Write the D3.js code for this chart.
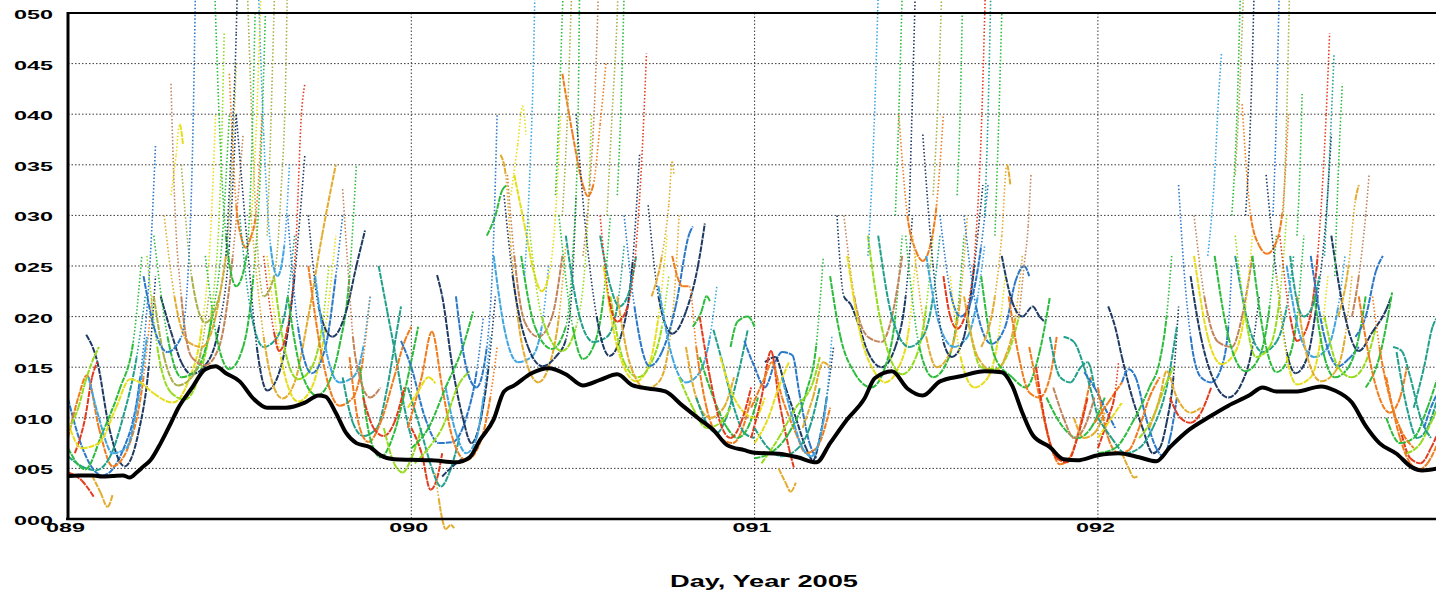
<!DOCTYPE html>
<html>
<head>
<meta charset="utf-8">
<script src="https://cdn.jsdelivr.net/npm/d3@7"></script>
<style>
  body { margin: 0; background: #fff; overflow: hidden; }
</style>
</head>
<body>
<svg id="chart"></svg>
<script>
// Axis ticks and labels
var dayTicks = [89, 90, 91, 92];
var dayLabels = ["089", "090", "091", "092"];
var yTicks = [0, 5, 10, 15, 20, 25, 30, 35, 40, 45, 50];
var yTickLabels = ["000", "005", "010", "015", "020", "025", "030", "035", "040", "045", "050"];
var xTitle = "Day, Year 2005";

// one colour per satellite track
var satColors = ["#1e3a62", "#2a78c8", "#20a08a", "#2cbc3c", "#96dc1e", "#e6de18",
                 "#e2ac2e", "#f07c1c", "#e43a1c", "#c2845a", "#a8b048", "#3ea6e0"];

// black lower envelope (day, value)
var baseline = [
  [89.0,4.25],[89.03,4.3],[89.073,4.3],[89.10,4.2],[89.13,4.25],[89.16,4.3],[89.18,4.1],[89.20,4.6],[89.22,5.2],[89.24,5.8],
  [89.27,7.5],[89.30,9.5],[89.32,10.9],[89.36,12.9],[89.40,14.8],[89.43,15.1],[89.46,14.4],[89.50,13.6],[89.54,11.9],[89.58,11.0],
  [89.635,11.0],[89.69,11.5],[89.73,12.2],[89.75,12.1],[89.78,10.5],[89.81,8.5],[89.84,7.5],[89.88,7.1],[89.91,6.3],[89.95,5.9],
  [90.0,5.85],[90.06,5.8],[90.13,5.6],[90.17,6.1],[90.20,7.8],[90.24,9.85],[90.27,12.6],[90.30,13.2],[90.35,14.4],[90.40,14.9],
  [90.45,14.3],[90.50,13.2],[90.55,13.75],[90.60,14.3],[90.645,13.2],[90.69,12.9],[90.74,12.6],[90.79,11.2],[90.84,9.85],[90.88,8.8],
  [90.92,7.3],[90.97,6.8],[91.0,6.55],[91.07,6.45],[91.125,6.1],[91.18,5.6],[91.22,7.5],[91.27,9.85],[91.32,11.9],[91.35,13.9],
  [91.40,14.6],[91.445,12.9],[91.49,12.2],[91.54,13.6],[91.60,14.1],[91.67,14.6],[91.72,14.5],[91.75,13.2],[91.78,10.5],[91.81,8.3],
  [91.86,7.1],[91.90,5.9],[91.94,5.8],[92.0,6.3],[92.06,6.5],[92.12,6.1],[92.17,5.7],[92.21,7.1],[92.265,8.8],[92.32,10.0],
  [92.38,11.2],[92.44,12.2],[92.48,13.0],[92.52,12.6],[92.58,12.6],[92.65,13.1],[92.69,12.7],[92.74,11.5],[92.78,9.2],[92.82,7.5],
  [92.87,6.45],[92.915,5.1],[92.945,4.8],[92.99,5.0]
];

// satellite passes: [colour index, [[day, value], ...]]
var passes = [
  // day 089
  [1,[[89.00,11.9],[89.04,7.2],[89.10,4.3],[89.16,6.8],[89.21,14],[89.24,26],[89.255,37]]],
  [0,[[89.053,18.2],[89.085,15.6],[89.12,9],[89.165,5.2],[89.205,8.5],[89.235,15],[89.255,24]]],
  [8,[[89.0,4.6],[89.04,3.8],[89.075,2.2]]],
  [6,[[89.07,4.3],[89.095,2.6],[89.115,1.2],[89.13,2.4]]],
  [7,[[89.0,8],[89.03,12],[89.055,14.2],[89.09,9],[89.13,5.2],[89.18,7.5],[89.22,14],[89.245,22]]],
  [2,[[89.0,6.2],[89.04,5.2],[89.08,4.8],[89.12,6],[89.16,10],[89.20,16],[89.225,22]]],
  [3,[[89.0,7],[89.05,4.9],[89.10,8.5],[89.15,12.8],[89.19,17.5],[89.215,26]]],
  [4,[[89.0,8.8],[89.03,11],[89.05,13.5],[89.07,15.5],[89.09,17]]],
  [8,[[89.02,6.5],[89.05,10],[89.07,14],[89.085,15.5]]],
  [11,[[89.06,14],[89.09,10],[89.13,6.5],[89.17,7],[89.20,11],[89.23,18]]],
  [5,[[89.0,9.5],[89.04,7],[89.09,7.5],[89.14,11],[89.18,13.8],[89.21,13.5],[89.25,12.4],[89.305,11.5],[89.35,13.6],[89.39,19],[89.415,28],[89.43,40]]],
  [4,[[89.23,26],[89.26,17],[89.30,12.5],[89.34,11.8],[89.38,14],[89.42,21],[89.445,34],[89.455,48]]],
  [0,[[89.27,22],[89.30,18.5],[89.33,15.5],[89.36,14.3],[89.40,15.2],[89.44,19],[89.47,27],[89.49,40]]],
  [3,[[89.25,28],[89.29,18],[89.33,14],[89.37,14.6],[89.42,20],[89.45,28],[89.47,40]]],
  [10,[[89.25,22],[89.28,16],[89.32,13.2],[89.36,14],[89.39,17],[89.41,22]]],
  [6,[[89.28,30],[89.31,22],[89.35,17.5],[89.39,17],[89.43,20],[89.46,26]]],
  [9,[[89.30,43],[89.31,32],[89.33,22],[89.36,16],[89.40,15.2],[89.44,17],[89.48,26],[89.51,38]]],
  [10,[[89.33,35],[89.36,24],[89.40,19.4],[89.44,22],[89.47,30],[89.49,45]]],
  [1,[[89.22,24],[89.25,19],[89.29,16.5],[89.33,18],[89.355,28],[89.365,40],[89.372,54]]],
  [7,[[89.47,44],[89.49,31],[89.505,27.8],[89.518,26.8],[89.532,27.8],[89.547,30],[89.565,40]]],
  [3,[[89.40,26],[89.43,18.5],[89.47,14.8],[89.51,17],[89.54,24],[89.56,34],[89.575,50]]],
  [2,[[89.50,30],[89.53,21],[89.57,17],[89.61,18],[89.64,22],[89.66,28]]],
  [0,[[89.49,40],[89.52,28],[89.55,17],[89.58,12.7],[89.62,15],[89.66,24],[89.69,36]]],
  [6,[[89.53,31],[89.57,18],[89.60,13],[89.625,11.9],[89.66,13.5],[89.70,20],[89.74,28],[89.78,35]]],
  [5,[[89.58,26],[89.62,16],[89.67,11.6],[89.71,13],[89.75,19],[89.78,28]]],
  [4,[[89.60,24],[89.63,17],[89.67,13.8],[89.71,15],[89.74,19],[89.76,25]]],
  [8,[[89.57,26],[89.60,18.5],[89.615,16.6],[89.64,19],[89.665,28],[89.68,40],[89.69,43]]],
  [1,[[89.64,30],[89.67,19],[89.71,14.4],[89.75,17],[89.78,24],[89.80,30]]],
  [3,[[89.64,22],[89.68,14.5],[89.725,12.2],[89.76,13.5],[89.79,17],[89.82,24],[89.84,35]]],
  [0,[[89.70,30],[89.73,21],[89.77,18],[89.81,20.5],[89.84,25],[89.865,28.5]]],
  [7,[[89.70,25],[89.74,16],[89.79,11.2],[89.83,12],[89.86,16],[89.88,22]]],
  [11,[[89.72,24],[89.75,17],[89.79,13.5],[89.83,14],[89.86,17],[89.88,22]]],
  [2,[[89.80,14],[89.83,9.5],[89.86,8.2],[89.90,9],[89.93,13],[89.955,18],[89.97,21]]],
  [2,[[89.905,25],[89.93,20.5],[89.955,16],[89.98,11],[90.0,8]]],
  [7,[[89.82,16],[89.85,9],[89.875,7.6],[89.91,9.5],[89.95,14],[89.98,17.5],[90.0,19]]],
  [3,[[89.85,15],[89.88,8],[89.91,6.1],[89.95,8.5],[89.99,14],[90.02,19]]],
  [8,[[89.86,12],[89.89,9],[89.92,8.2],[89.95,9.5],[89.98,13]]],
  [4,[[89.92,9],[89.95,5.5],[89.975,4.6],[90.0,6],[90.03,9]]],
  [9,[[89.80,32.6],[89.815,25],[89.83,18],[89.85,14],[89.88,12],[89.91,13]]],
  [10,[[89.52,55],[89.535,40],[89.55,28],[89.57,22],[89.60,24],[89.62,32],[89.635,45],[89.64,55]]],
  [3,[[89.425,55],[89.44,40],[89.46,28],[89.49,23],[89.52,26],[89.535,36],[89.545,50]]],
  [11,[[89.555,52],[89.57,38],[89.59,27],[89.61,24],[89.63,27],[89.645,35]]],
  [0,[[89.46,26],[89.475,36],[89.49,48],[89.495,55]]],
  [5,[[89.535,30],[89.55,40],[89.56,50],[89.565,55]]],
  [10,[[89.58,28],[89.59,38],[89.60,50],[89.605,56]]],
  [5,[[89.30,32],[89.315,36],[89.325,39],[89.335,37]]],
  // day 090
  [1,[[89.97,17.6],[90.0,15],[90.04,10],[90.08,7.5],[90.12,7.6],[90.16,10],[90.19,14.5],[90.21,20]]],
  [0,[[90.075,24.1],[90.09,22],[90.12,15],[90.15,10],[90.175,7.5],[90.20,9.5],[90.225,15],[90.245,22]]],
  [8,[[90.0,9],[90.03,6.5],[90.056,2.9],[90.075,4],[90.09,6.5]]],
  [6,[[90.07,4.5],[90.08,2],[90.09,0],[90.10,-1],[90.115,-0.6],[90.125,-0.9]]],
  [2,[[89.99,13],[90.03,8.5],[90.06,5],[90.086,3.2],[90.11,4.5],[90.14,8]]],
  [0,[[90.09,4.2],[90.12,5.2],[90.15,6]]],
  [7,[[89.99,9],[90.03,14],[90.06,18.5],[90.09,13],[90.12,8],[90.16,5.8],[90.20,7.5],[90.23,12],[90.25,17]]],
  [3,[[90.0,7],[90.05,9],[90.10,13],[90.15,17],[90.18,20.5]]],
  [5,[[89.99,11],[90.02,12.6],[90.05,14],[90.07,13.4]]],
  [11,[[90.10,13],[90.13,8.5],[90.16,6.5],[90.19,8],[90.21,12],[90.23,18]]],
  [4,[[90.01,5.5],[90.05,7],[90.09,9],[90.14,13.4],[90.17,14.6]]],
  [3,[[90.22,28],[90.245,30],[90.265,32.5],[90.28,33]]],
  [1,[[90.13,22],[90.16,15],[90.19,13],[90.22,17],[90.24,28],[90.25,40]]],
  [5,[[90.29,32],[90.31,37],[90.324,40.8],[90.334,38]]],
  [11,[[90.24,26],[90.27,19],[90.31,15.5],[90.35,16],[90.38,19],[90.40,25]]],
  [9,[[90.28,34],[90.30,26],[90.33,19.5],[90.37,18],[90.41,20],[90.44,26]]],
  [6,[[90.26,36],[90.275,34],[90.29,27],[90.31,20],[90.34,15],[90.37,13.5],[90.40,15],[90.43,20],[90.45,27]]],
  [5,[[90.30,34],[90.33,29],[90.36,24],[90.38,22.5],[90.40,24],[90.42,30],[90.435,40]]],
  [0,[[90.27,32],[90.295,24.1],[90.34,17],[90.382,15.1],[90.42,16],[90.45,17.7],[90.47,24],[90.48,32]]],
  [3,[[90.32,26],[90.36,19],[90.41,16.8],[90.45,19],[90.47,26],[90.485,38],[90.49,52]]],
  [4,[[90.34,30],[90.38,20],[90.44,16.6],[90.48,19],[90.51,27],[90.525,40]]],
  [3,[[90.43,30],[90.47,19],[90.50,15.8],[90.53,17],[90.56,22],[90.58,30]]],
  [2,[[90.45,28],[90.49,20],[90.53,17.5],[90.57,18],[90.60,21],[90.62,27]]],
  [7,[[90.44,44],[90.47,38],[90.50,33],[90.514,31.9],[90.53,33],[90.55,39],[90.567,45]]],
  [0,[[90.48,40],[90.504,30],[90.54,20],[90.577,16.1],[90.61,18],[90.645,25.5],[90.665,36]]],
  [2,[[90.55,28],[90.58,23],[90.606,21],[90.63,22],[90.655,26]]],
  [5,[[90.56,25],[90.60,17],[90.655,13.6],[90.69,15],[90.72,20],[90.745,28]]],
  [4,[[90.58,22],[90.62,15.5],[90.66,14],[90.70,15.5],[90.73,19],[90.75,24]]],
  [6,[[90.60,22],[90.64,15],[90.684,12.9],[90.72,13.5],[90.75,17],[90.77,24],[90.78,30]]],
  [1,[[90.62,30],[90.65,21],[90.694,15.1],[90.73,16.5],[90.77,21],[90.81,28.2],[90.82,28.9]]],
  [0,[[90.69,31],[90.72,22],[90.76,18.3],[90.80,20.5],[90.835,25],[90.855,29.2]]],
  [11,[[90.72,23],[90.76,16],[90.80,13.5],[90.84,14.5],[90.87,18],[90.89,23]]],
  [8,[[90.55,30],[90.575,22],[90.60,19.5],[90.63,21],[90.655,27],[90.675,38],[90.685,46]]],
  [9,[[90.50,26],[90.52,33],[90.535,42],[90.545,52]]],
  [3,[[90.42,32],[90.43,40],[90.44,50],[90.445,55]]],
  [10,[[90.44,30],[90.455,40],[90.465,50],[90.47,55]]],
  [11,[[90.33,24],[90.345,34],[90.355,44],[90.36,52]]],
  [10,[[90.57,30],[90.585,40],[90.60,50],[90.605,55]]],
  [3,[[90.60,32],[90.61,40],[90.62,52]]],
  [6,[[90.70,22],[90.73,26],[90.75,31],[90.76,35.3],[90.765,34]]],
  [7,[[90.76,26],[90.79,23],[90.81,23],[90.83,17],[90.86,11],[90.90,8],[90.937,7.5],[90.96,8.5],[90.99,12]]],
  [3,[[90.82,19],[90.845,20.5],[90.86,22],[90.87,21.5]]],
  [6,[[90.80,17],[90.83,12],[90.87,10],[90.91,11],[90.94,14]]],
  [2,[[90.83,12],[90.86,9.5],[90.89,8.5],[90.917,10],[90.95,14],[90.98,18.7]]],
  [2,[[90.88,18.7],[90.91,15],[90.94,11],[90.97,8.5],[91.0,8]]],
  [3,[[90.84,16],[90.88,12],[90.92,9],[90.95,8],[90.98,9],[91.01,12]]],
  [3,[[90.93,17],[90.95,19.5],[90.98,20],[91.0,19]]],
  [5,[[90.90,16],[90.94,12],[90.97,10.5],[91.0,10],[91.03,12]]],
  [8,[[90.84,20],[90.87,14],[90.90,9.5],[90.93,8],[90.96,9.5],[90.99,13]]],
  [4,[[90.78,14],[90.82,11],[90.86,9],[90.90,9.5],[90.93,11]]],
  // day 091
  [1,[[90.97,17.6],[91.0,15],[91.03,13],[91.06,15.5],[91.08,16.5],[91.11,16.2],[91.13,12.5],[91.16,7.5],[91.18,6]]],
  [0,[[91.03,15.5],[91.06,16],[91.09,13],[91.12,10],[91.15,7],[91.17,5.8],[91.19,8],[91.21,12],[91.23,17]]],
  [8,[[90.99,8],[91.02,12],[91.048,16.6],[91.07,12],[91.10,7],[91.115,5]]],
  [6,[[91.07,5],[91.09,3.6],[91.105,2.7],[91.12,3.6]]],
  [7,[[90.99,11],[91.03,14],[91.05,15.5],[91.08,12],[91.12,8.5],[91.15,6.5],[91.18,7],[91.22,11]]],
  [2,[[91.0,9],[91.04,7],[91.08,6.2],[91.12,6.8],[91.16,9],[91.19,13]]],
  [5,[[91.0,7.5],[91.04,10],[91.07,13],[91.10,15.5]]],
  [3,[[91.0,6],[91.05,6.6],[91.10,8.5],[91.15,12.5],[91.18,17.3],[91.20,25.8]]],
  [4,[[91.02,5.5],[91.07,8],[91.12,11],[91.17,13.5],[91.19,16]]],
  [11,[[91.08,14],[91.11,10],[91.14,7],[91.165,6.2],[91.19,8],[91.21,12],[91.225,18]]],
  [6,[[91.14,9],[91.17,12],[91.20,15.5],[91.22,15]]],
  [0,[[91.24,30],[91.26,22],[91.28,21.2],[91.30,19.5],[91.33,16.5],[91.37,15],[91.41,17],[91.44,22],[91.46,30]]],
  [3,[[91.22,24],[91.25,18],[91.29,14.5],[91.34,13],[91.38,15],[91.41,20],[91.43,28]]],
  [9,[[91.26,30],[91.29,22],[91.33,18],[91.37,17.5],[91.40,20],[91.43,26]]],
  [5,[[91.27,26],[91.31,18],[91.35,14.5],[91.38,13.5],[91.42,15],[91.45,19],[91.47,26]]],
  [4,[[91.33,28],[91.37,19],[91.43,14.3],[91.47,16],[91.50,21],[91.52,28]]],
  [2,[[91.36,28],[91.40,20],[91.45,17],[91.49,18],[91.52,22],[91.54,28]]],
  [7,[[91.42,40],[91.445,30],[91.47,26.5],[91.49,25.5],[91.51,26.8],[91.53,31],[91.55,40]]],
  [3,[[91.44,28],[91.48,17],[91.52,14],[91.56,15.5],[91.59,20],[91.61,28]]],
  [6,[[91.46,28],[91.50,18],[91.53,15],[91.57,16.5],[91.60,22],[91.62,30]]],
  [11,[[91.50,26],[91.54,19],[91.58,17],[91.62,18],[91.65,22],[91.67,27]]],
  [0,[[91.49,38],[91.52,25],[91.55,17.5],[91.575,16],[91.61,18],[91.64,25],[91.665,33]]],
  [1,[[91.54,30],[91.57,22.5],[91.60,20],[91.63,21.5],[91.66,27],[91.68,33]]],
  [8,[[91.55,24],[91.57,20],[91.59,18.8],[91.62,21],[91.645,28],[91.66,38],[91.672,52]]],
  [5,[[91.57,24],[91.60,16],[91.64,13],[91.68,14],[91.71,18],[91.73,24]]],
  [4,[[91.62,20],[91.66,15],[91.70,14.8],[91.74,16.5],[91.77,20]]],
  [6,[[91.61,22],[91.65,16],[91.70,14.5],[91.73,16],[91.76,20],[91.78,26]]],
  [1,[[91.61,30],[91.645,21],[91.69,17.3],[91.73,19],[91.76,23.5],[91.785,25],[91.80,24]]],
  [0,[[91.72,26],[91.75,21.5],[91.78,20],[91.81,21],[91.83,20],[91.845,19.5]]],
  [3,[[91.66,24],[91.70,16],[91.75,14],[91.79,13],[91.83,16.5],[91.86,21.9]]],
  [6,[[91.66,17],[91.70,22],[91.72,28],[91.735,35],[91.745,33]]],
  [9,[[91.77,20],[91.785,25],[91.797,29],[91.805,34]]],
  [11,[[91.33,26],[91.345,36],[91.355,46],[91.36,52]]],
  [3,[[91.41,30],[91.42,40],[91.43,52]]],
  [0,[[91.45,30],[91.46,42],[91.468,52]]],
  [10,[[91.52,32],[91.535,42],[91.545,52]]],
  [3,[[91.59,32],[91.60,42],[91.605,50]]],
  [2,[[91.67,30],[91.68,40],[91.688,52]]],
  [3,[[91.70,28],[91.71,38],[91.72,50]]],
  [7,[[91.74,22],[91.77,16],[91.80,12.5],[91.83,12],[91.86,14],[91.88,18]]],
  [7,[[91.80,17],[91.83,12],[91.86,7.5],[91.89,5.4],[91.92,6.2],[91.95,9.5],[91.98,14]]],
  [8,[[91.82,15],[91.85,9],[91.88,6],[91.91,5.6],[91.94,8],[91.97,12]]],
  [2,[[91.86,18],[91.89,14],[91.92,13.5],[91.95,15],[91.97,15.5],[91.99,13]]],
  [2,[[91.90,18],[91.93,17.5],[91.96,15],[92.0,10]]],
  [3,[[91.85,12],[91.90,9],[91.94,8],[91.98,9],[92.02,12]]],
  [6,[[91.93,10],[91.96,8],[91.99,8.5],[92.02,10.5]]],
  [1,[[91.96,14.5],[91.99,13],[92.02,11],[92.05,9]]],
  [9,[[91.87,13],[91.90,10],[91.93,8],[91.96,9],[91.99,12]]],
  // day 092
  [0,[[92.03,21],[92.05,19],[92.07,16],[92.10,12],[92.13,9],[92.16,6.5],[92.18,7],[92.20,9.5],[92.22,14],[92.235,21]]],
  [1,[[92.07,13.5],[92.09,14.8],[92.11,14],[92.14,10],[92.17,7],[92.19,6.2],[92.21,8],[92.23,12]]],
  [6,[[92.07,6.5],[92.09,5],[92.105,4.1],[92.115,4.2]]],
  [7,[[91.99,9.5],[92.03,11.5],[92.07,13.5]]],
  [8,[[92.0,7],[92.03,10],[92.05,12.5],[92.06,15.5]]],
  [7,[[92.0,13],[92.03,8],[92.06,6.5],[92.09,6.8],[92.12,9],[92.15,12],[92.18,14]]],
  [5,[[92.0,8],[92.04,10],[92.07,11.5]]],
  [3,[[92.0,6.5],[92.05,7],[92.10,9.5],[92.15,13],[92.18,15.6],[92.20,20],[92.215,26]]],
  [2,[[92.0,10],[92.04,8],[92.08,6.5],[92.12,7],[92.16,9],[92.20,13],[92.23,19]]],
  [4,[[92.12,8],[92.16,10],[92.20,13.5],[92.22,15]]],
  [6,[[92.15,9],[92.18,12],[92.20,14.6],[92.23,12],[92.27,10.5],[92.30,11]]],
  [8,[[92.21,12],[92.24,10],[92.27,9.5],[92.30,10.5],[92.33,13]]],
  [1,[[92.235,33],[92.25,25],[92.27,18],[92.30,14],[92.33,13.5],[92.36,15],[92.38,19],[92.39,25]]],
  [0,[[92.27,24],[92.30,18],[92.34,13.5],[92.38,12],[92.42,13.5],[92.45,17],[92.47,22]]],
  [9,[[92.28,30],[92.31,22],[92.35,17.5],[92.39,17],[92.42,20],[92.45,26]]],
  [5,[[92.28,26],[92.32,18],[92.36,15.3],[92.40,16.5],[92.43,21],[92.45,28]]],
  [3,[[92.34,26],[92.38,18],[92.43,14.6],[92.47,16],[92.50,21],[92.52,28]]],
  [2,[[92.40,26],[92.44,19],[92.48,16.5],[92.52,17.5],[92.55,21],[92.57,26]]],
  [7,[[92.42,41],[92.445,30],[92.47,27],[92.493,26.2],[92.515,27],[92.537,30.2],[92.555,40]]],
  [4,[[92.40,28],[92.43,20],[92.46,16],[92.50,17],[92.53,22],[92.55,30]]],
  [3,[[92.45,26],[92.49,17],[92.52,14.5],[92.55,15.5],[92.58,20],[92.60,28]]],
  [0,[[92.49,34],[92.52,24],[92.55,16.5],[92.576,14.4],[92.61,16],[92.64,22],[92.665,30],[92.68,38]]],
  [8,[[92.53,28],[92.56,20],[92.58,17.6],[92.61,19],[92.64,26],[92.665,40],[92.675,48]]],
  [11,[[92.55,25],[92.59,18],[92.63,16],[92.67,17],[92.70,21],[92.72,26]]],
  [5,[[92.52,24],[92.55,16],[92.58,13.3],[92.62,14],[92.65,18],[92.67,24]]],
  [6,[[92.58,22],[92.61,16],[92.65,13.6],[92.69,14.5],[92.72,18],[92.74,24]]],
  [2,[[92.56,26],[92.58,21.5],[92.60,20],[92.625,21],[92.645,24]]],
  [1,[[92.62,26],[92.66,18],[92.70,15.1],[92.73,15.8],[92.76,17]]],
  [3,[[92.63,22],[92.66,16],[92.69,14],[92.73,15],[92.76,18],[92.78,22]]],
  [4,[[92.66,20],[92.70,15],[92.74,14],[92.78,15.5],[92.81,19]]],
  [0,[[92.68,28],[92.72,20],[92.76,16.6],[92.80,18.5],[92.84,20.7],[92.855,22]]],
  [1,[[92.75,18],[92.78,20],[92.81,24.5],[92.83,26]]],
  [3,[[92.78,13],[92.82,16],[92.857,22.4]]],
  [6,[[92.70,20],[92.73,25],[92.75,31.5],[92.76,33]]],
  [9,[[92.74,20],[92.76,24],[92.78,30],[92.79,34]]],
  [11,[[92.32,26],[92.34,34],[92.352,42],[92.36,46]]],
  [3,[[92.39,30],[92.405,40],[92.415,52]]],
  [10,[[92.40,34],[92.415,44],[92.425,53]]],
  [0,[[92.43,30],[92.445,40],[92.455,52]]],
  [1,[[92.51,30],[92.52,40],[92.528,52]]],
  [10,[[92.54,30],[92.55,40],[92.558,52]]],
  [3,[[92.58,28],[92.59,36],[92.595,42]]],
  [2,[[92.66,26],[92.675,36],[92.688,46]]],
  [3,[[92.69,24],[92.70,34],[92.712,43]]],
  [7,[[92.76,22],[92.79,16],[92.82,12],[92.85,10.5],[92.88,12],[92.90,15]]],
  [7,[[92.84,14],[92.88,8],[92.91,5.5],[92.935,4.9],[92.96,5.5],[92.99,7.5]]],
  [2,[[92.87,16.5],[92.90,11],[92.93,8],[92.96,9],[92.99,12]]],
  [8,[[92.88,9],[92.91,6],[92.94,5.5],[92.97,7],[92.99,8.5]]],
  [3,[[92.84,10],[92.88,7.5],[92.92,8],[92.96,11],[92.99,14]]],
  [2,[[92.92,11],[92.95,15],[92.975,19],[92.99,20]]],
  [4,[[92.90,6.5],[92.94,7.5],[92.97,9.5],[92.99,11]]],
  [2,[[92.86,17],[92.885,16.6],[92.91,14],[92.94,10],[92.97,8]]],
  [1,[[92.95,9],[92.97,11],[92.99,12.5]]],
  [7,[[92.80,22],[92.82,17],[92.85,12],[92.88,9],[92.92,7]]]
];

// Set up the chart
var svgWidth = 1436;
var svgHeight = 591;
var margin = { top: 13, left: 68, bottom: 72 };
var plotBottom = svgHeight - margin.bottom; // 519

var svg = d3.select("#chart")
  .attr("width", svgWidth)
  .attr("height", svgHeight);

// 343.3 px per day
var xScale = d3.scaleLinear().domain([89, 93]).range([margin.left, margin.left + 4 * 343.3]);
var yScale = d3.scaleLinear().domain([0, 50]).range([plotBottom, margin.top]);

// dotted grid
var grid = svg.append("g").attr("class", "grid");
grid.selectAll("line.h")
  .data(yTicks.filter(function(d) { return d > 0 && d < 50; }))
  .join("line")
  .attr("class", "h")
  .attr("x1", margin.left).attr("x2", svgWidth)
  .attr("y1", function(d) { return yScale(d); })
  .attr("y2", function(d) { return yScale(d); })
  .attr("stroke", "#3a3a3a")
  .attr("stroke-width", 1)
  .attr("stroke-dasharray", "1.5,2");

grid.selectAll("line.v")
  .data(dayTicks.slice(1))
  .join("line")
  .attr("class", "v")
  .attr("x1", function(d) { return xScale(d); })
  .attr("x2", function(d) { return xScale(d); })
  .attr("y1", yScale(50)).attr("y2", yScale(0))
  .attr("stroke", "#3a3a3a")
  .attr("stroke-width", 1)
  .attr("stroke-dasharray", "1.5,2");

// satellite tracks: very steep pieces look dotted (sparse samples), the rest looks solid
var trackLine = d3.line()
  .x(function(d) { return xScale(d[0]); })
  .y(function(d) { return yScale(d[1]); })
  .curve(d3.curveMonotoneX);

var tracks = svg.append("g").attr("class", "tracks").attr("fill", "none");

passes.forEach(function(pass) {
  var color = satColors[pass[0]];
  var d = trackLine(pass[1]);
  var parts = d.slice(1).split("C");
  if (parts.length < 2) {
    tracks.append("path").attr("d", d).attr("stroke", color).attr("stroke-width", 2);
    return;
  }
  var start = parts[0];
  parts.slice(1).forEach(function(seg) {
    var n = seg.split(",");
    var s = start.split(",");
    var dx = Math.abs(+n[4] - +s[0]);
    var dy = Math.abs(+n[5] - +s[1]);
    var steep = dy > 7 * dx;
    tracks.append("path")
      .attr("d", "M" + start + "C" + seg)
      .attr("stroke", color)
      .attr("stroke-width", steep ? 1.6 : 2)
      .attr("stroke-dasharray", steep ? "1.5,2" : "6,1");
    start = n[4] + "," + n[5];
  });
});

// black envelope
svg.append("path")
  .datum(baseline)
  .attr("fill", "none")
  .attr("stroke", "#000")
  .attr("stroke-width", 4)
  .attr("stroke-linejoin", "round")
  .attr("d", d3.line()
    .x(function(d) { return xScale(d[0]); })
    .y(function(d) { return yScale(d[1]); })
    .curve(d3.curveMonotoneX));

// axes
var font = "'Liberation Sans', Arial, sans-serif";

var leftAxis = d3.axisLeft(yScale)
  .tickValues(yTicks)
  .tickFormat(function(d, i) { return yTickLabels[i]; })
  .tickSize(0)
  .tickPadding(15);

var yAxisG = svg.append("g")
  .attr("transform", "translate(" + margin.left + ",0)")
  .call(leftAxis);
yAxisG.select(".domain").remove();
yAxisG.selectAll("text")
  .attr("dy", "0.4em")
  .attr("fill", "#000")
  .style("font-family", font)
  .style("font-weight", "bold")
  .style("font-size", "13.5px")
  .attr("textLength", 39)
  .attr("lengthAdjust", "spacingAndGlyphs");

var bottomAxis = d3.axisBottom(xScale)
  .tickValues(dayTicks)
  .tickFormat(function(d, i) { return dayLabels[i]; })
  .tickSize(0)
  .tickPadding(3);

var xAxisG = svg.append("g")
  .attr("transform", "translate(0," + plotBottom + ")")
  .call(bottomAxis);
xAxisG.select(".domain").remove();
xAxisG.selectAll("text")
  .attr("x", -3)
  .attr("fill", "#000")
  .style("font-family", font)
  .style("font-weight", "bold")
  .style("font-size", "13.5px")
  .attr("textLength", 39)
  .attr("lengthAdjust", "spacingAndGlyphs");

// frame lines
svg.append("line")
  .attr("x1", margin.left).attr("x2", svgWidth)
  .attr("y1", margin.top).attr("y2", margin.top)
  .attr("stroke", "#000").attr("stroke-width", 2);
svg.append("line")
  .attr("x1", margin.left - 2).attr("x2", svgWidth)
  .attr("y1", plotBottom).attr("y2", plotBottom)
  .attr("stroke", "#000").attr("stroke-width", 2.5);
svg.append("line")
  .attr("x1", margin.left).attr("x2", margin.left)
  .attr("y1", margin.top - 1).attr("y2", plotBottom + 1)
  .attr("stroke", "#000").attr("stroke-width", 3);

// x title
svg.append("text")
  .attr("x", 764)
  .attr("y", 587)
  .attr("text-anchor", "middle")
  .attr("fill", "#000")
  .style("font-family", font)
  .style("font-weight", "bold")
  .style("font-size", "16px")
  .attr("textLength", 188)
  .attr("lengthAdjust", "spacingAndGlyphs")
  .text(xTitle);
</script>
</body>
</html>
